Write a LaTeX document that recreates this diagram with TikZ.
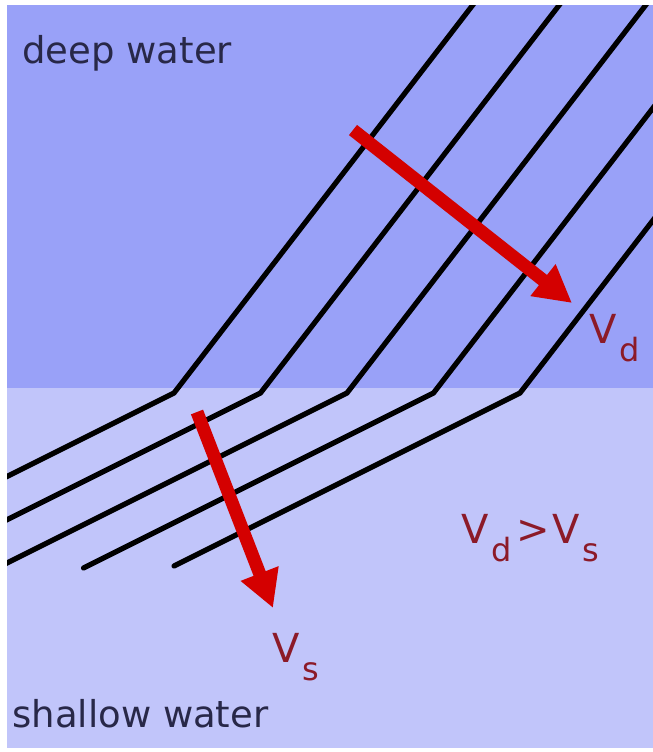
\documentclass[tikz,border=0pt]{standalone}
\usepackage{fontspec}
\setmainfont{DejaVu Sans}
\usetikzlibrary{arrows.meta,calc}
\definecolor{deepblue}{RGB}{153,161,248}
\definecolor{shallowblue}{RGB}{193,197,250}
\definecolor{rayred}{RGB}{212,0,0}
\definecolor{velred}{RGB}{140,26,40}
\definecolor{regnavy}{RGB}{40,40,72}
\newcommand{\vel}[1]{V\kern1.5pt\raisebox{-9pt}{\fontsize{16}{16}\selectfont #1}}

\begin{document}
\begin{tikzpicture}[x=0.5pt, y=-0.5pt,
  front/.style={line width=2.6pt, line cap=round, line join=miter},
  ray/.style={-{Triangle[length=18.5pt,width=19pt]}, line width=6.5pt, rayred},
  region/.style={font=\fontsize{18.5}{18.5}\selectfont, text=regnavy, anchor=base west, inner sep=0pt},
  vlabel/.style={font=\fontsize{20}{20}\selectfont, text=velred, anchor=base west, inner sep=0pt}]
\fill[white] (0,0) rectangle (653,752);
\useasboundingbox (0,0) rectangle (653,752);
% deep and shallow water
\fill[deepblue] (7,5) rectangle (653,388);
\fill[shallowblue] (7,388) rectangle (653,748);
% wave fronts, bent at the boundary
\begin{scope}
  \clip (7,5) rectangle (653,748);
  \foreach \i/\len in {0/420, 1/420, 2/420, 3/350, 4/346} {
    \coordinate (kink\i) at ({174+86.5*\i},393);
    \draw[front] ($(kink\i)+(0.77*420,-420)$) -- (kink\i) -- ($(kink\i)+(-\len,0.5*\len)$);
  }
\end{scope}
% wave velocities
\coordinate (dtail) at (353,130);
\coordinate (dtip) at (572,303);
\coordinate (stail) at (197,412);
\coordinate (stip) at (273,608);
\draw[ray] (dtail) -- (dtip);
\draw[ray] (stail) -- (stip);
\node[region] (deep) at (22,63) {deep water};
\node[region] (shallow) at (12,727) {shallow water};
\node[vlabel] (vd) at (589,343) {\vel{d}};
\node[vlabel] (vs) at (272,662) {\vel{s}};
\node[vlabel] (rel) at (461,543) {\vel{d}\kern2pt>\kern1.5pt\vel{s}};
\end{tikzpicture}
\end{document}
